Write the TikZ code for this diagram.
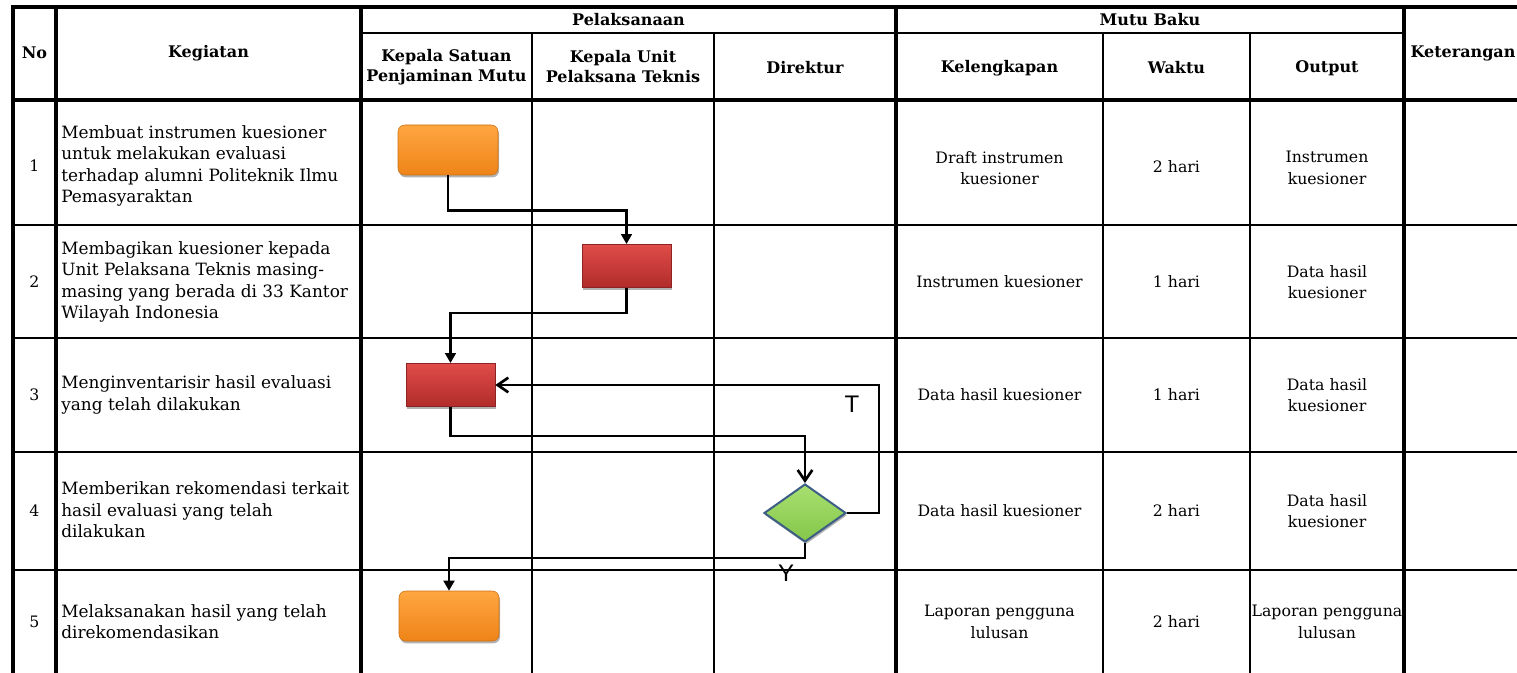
\documentclass[tikz,border=0pt]{standalone}
\usepackage{fontspec}
\setmainfont{DejaVu Serif}
\newfontfamily\yesnofont{Liberation Sans}
\usetikzlibrary{shapes.geometric,arrows.meta,shadows}

\definecolor{orangetop}{HTML}{FFA640}
\definecolor{orangebot}{HTML}{EE8418}
\definecolor{redtop}{HTML}{E04C49}
\definecolor{redbot}{HTML}{B02C2A}
\definecolor{greentop}{HTML}{A8E070}
\definecolor{greenbot}{HTML}{84C64A}
\definecolor{diamondline}{HTML}{3C5E84}

\tikzset{
  gridheavy/.style={line width=3pt},
  gridrow/.style={line width=2.2pt},
  gridlight/.style={line width=1.6pt},
  headtext/.style={font=\bfseries\fontsize{12}{15}\selectfont, align=center},
  celltext/.style={font=\fontsize{11.8}{16}\selectfont, align=center},
  tasktext/.style={font=\fontsize{12.7}{16}\selectfont, align=left, anchor=west, inner sep=0pt},
  boxshadow/.style={drop shadow={shadow xshift=0.8pt, shadow yshift=-1.8pt, opacity=0.3, fill=black}},
  startbox/.style={rounded corners=5pt, minimum width=75pt, minimum height=37.5pt,
    top color=orangetop, bottom color=orangebot, draw=orangebot!85!black, line width=0.4pt, boxshadow},
  procbox/.style={minimum width=66.75pt, minimum height=32.5pt,
    top color=redtop, bottom color=redbot, draw=redbot!80!black, line width=0.4pt, boxshadow},
  decisionbox/.style={diamond, inner sep=0pt, minimum width=61.5pt, minimum height=43.5pt,
    top color=greentop, bottom color=greenbot, draw=diamondline, line width=1.5pt, boxshadow},
  flowline/.style={line width=2pt},
  solidtip/.style={-{Triangle[length=7.5pt,width=8pt]}},
  opentip/.style={-{Straight Barb[length=8pt,width=11pt]}},
  yesno/.style={font=\yesnofont\fontsize{18}{20}\selectfont},
}

\begin{document}
\begin{tikzpicture}[x=0.75pt,y=-0.75pt]
  \useasboundingbox (0,0) rectangle (1517,673);
  % table lines
  \draw[gridheavy] (11,7) -- (1530,7);
  \draw[gridheavy] (13,5) -- (13,690);
  \draw[gridheavy] (56,5) -- (56,690);
  \draw[gridheavy] (361,5) -- (361,690);
  \draw[gridheavy] (896,5) -- (896,690);
  \draw[gridheavy] (1404,5) -- (1404,690);
  \draw[gridlight] (361,33) -- (1404,33);
  \draw[gridlight] (532,33) -- (532,690);
  \draw[gridlight] (714,33) -- (714,690);
  \draw[gridlight] (1103,33) -- (1103,690);
  \draw[gridlight] (1250,33) -- (1250,690);
  \draw[gridheavy] (13,100) -- (1530,100);
  \foreach \y in {225,338,452,570,674}
    \draw[gridrow] (13,\y) -- (1530,\y);

  % header
  \node[headtext] (hno) at (34.5,53) {No};
  \node[headtext] (hkeg) at (208.5,53) {Kegiatan};
  \node[headtext] (hpel) at (628.5,20) {Pelaksanaan};
  \node[headtext] (hmutu) at (1150,20) {Mutu Baku};
  \node[headtext] (hket) at (1463,53) {Keterangan};
  \node[headtext] (hkspm) at (446.5,67) {Kepala Satuan\\Penjaminan Mutu};
  \node[headtext] (hkupt) at (623,67) {Kepala Unit\\Pelaksana Teknis};
  \node[headtext] (hdir) at (805,68) {Direktur};
  \node[headtext] (hlengkap) at (999.5,68) {Kelengkapan};
  \node[headtext] (hwaktu) at (1176.5,68) {Waktu};
  \node[headtext] (hout) at (1327,68) {Output};

  % rows
  \foreach \i/\y in {1/166,2/282,3/395,4/511,5/622}
    \node[celltext] (no\i) at (34.5,\y) {\i};
  \node[tasktext] (keg1) at (61,166) {Membuat instrumen kuesioner\\untuk melakukan evaluasi\\terhadap alumni Politeknik Ilmu\\Pemasyaraktan};
  \node[tasktext] (keg2) at (61,282) {Membagikan kuesioner kepada\\Unit Pelaksana Teknis masing-\\masing yang berada di 33 Kantor\\Wilayah Indonesia};
  \node[tasktext] (keg3) at (61,395) {Menginventarisir hasil evaluasi\\yang telah dilakukan};
  \node[tasktext] (keg4) at (61,510) {Memberikan rekomendasi terkait\\hasil evaluasi yang telah\\dilakukan};
  \node[tasktext] (keg5) at (61,622) {Melaksanakan hasil yang telah\\direkomendasikan};

  \node[celltext] (lengkap1) at (999.5,168) {Draft instrumen\\kuesioner};
  \node[celltext] (lengkap2) at (999.5,282) {Instrumen kuesioner};
  \node[celltext] (lengkap3) at (999.5,395) {Data hasil kuesioner};
  \node[celltext] (lengkap4) at (999.5,511) {Data hasil kuesioner};
  \node[celltext] (lengkap5) at (999.5,622) {Laporan pengguna\\lulusan};
  \node[celltext] (waktu1) at (1176.5,167) {2 hari};
  \node[celltext] (waktu2) at (1176.5,282) {1 hari};
  \node[celltext] (waktu3) at (1176.5,395) {1 hari};
  \node[celltext] (waktu4) at (1176.5,511) {2 hari};
  \node[celltext] (waktu5) at (1176.5,622) {2 hari};
  \node[celltext] (out1) at (1327,168) {Instrumen\\kuesioner};
  \node[celltext] (out2) at (1327,282) {Data hasil\\kuesioner};
  \node[celltext] (out3) at (1327,395) {Data hasil\\kuesioner};
  \node[celltext] (out4) at (1327,511) {Data hasil\\kuesioner};
  \node[celltext] (out5) at (1327,622) {Laporan pengguna\\lulusan};

  % flowchart
  \node[startbox] (start1) at (448,150) {};
  \node[procbox] (proc2) at (626.5,266) {};
  \node[procbox] (proc3) at (450.5,385) {};
  \node[decisionbox] (cek4) at (805,513) {};
  \node[startbox] (start5) at (449,616) {};

  % connectors
  \draw[flowline,solidtip] (start1.south) -- ++(0,35) -| (proc2.north);
  \draw[flowline,solidtip] (proc2.south) -- ++(0,25) -| (proc3.north);
  \draw[flowline,opentip] (proc3.south) -- ++(0,29) -| (cek4.north);
  \draw[flowline,opentip] (cek4.east) -- ++(32,0) |- (proc3.east);
  \draw[flowline,solidtip] (cek4.south) -- ++(0,15) -| (start5.north);

  % labels
  \node[yesno] (tidak) at (852,404) {T};
  \node[yesno] (ya) at (786,573) {Y};
\end{tikzpicture}
\end{document}
